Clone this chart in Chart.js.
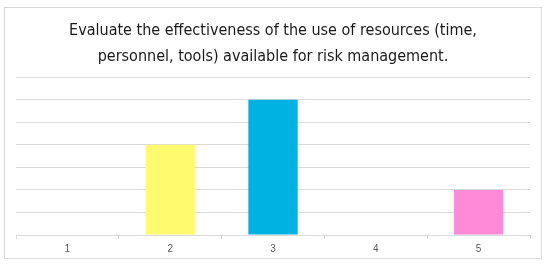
<!DOCTYPE html>
<html>
<head>
<meta charset="utf-8">
<script src="https://cdn.jsdelivr.net/npm/chart.js@4"></script>
<style>
  body { margin: 0; background: #fff; }
  #box {
    position: absolute; left: 4px; top: 7px;
    width: 538px; height: 252px;
    box-sizing: border-box;
    border: 1px solid #d9d9d9;
  }
  #wrap { position: relative; width: 536px; height: 250px; }
</style>
</head>
<body>
<div id="box"><div id="wrap"><canvas id="grafico"></canvas></div></div>
<script>
// dados
const categorias = ['1', '2', '3', '4', '5'];
const respostas = [0, 4, 6, 0, 2];
const cores = ['#5b9bd5', '#fffb6e', '#00b2e2', '#a5a5a5', '#ff8ad8'];
const tituloLinhas = [
  'Evaluate the effectiveness of the use of resources (time,',
  'personnel, tools) available for risk management.'
];

const ctx = document.getElementById('grafico').getContext('2d');
new Chart(ctx, {
  type: 'bar',
  data: {
    labels: categorias,
    datasets: [{
      label: 'Respostas',
      data: respostas,
      backgroundColor: cores,
      borderWidth: 0,
      categoryPercentage: 1,
      barPercentage: 0.48
    }]
  },
  options: {
    responsive: true,
    maintainAspectRatio: false,
    animation: false,
    layout: { padding: { left: 11, right: 11, top: 0, bottom: -1 } },
    plugins: {
      legend: { display: false },
      tooltip: { enabled: false },
      title: {
        display: true,
        text: tituloLinhas,
        color: '#1a1a1a',
        font: { family: "'DejaVu Sans Condensed', 'Liberation Sans'", size: 16, weight: 'normal', lineHeight: 1.6 },
        padding: { top: 10, bottom: 8 }
      }
    },
    scales: {
      x: {
        border: { display: true, color: '#d9d9d9' },
        grid: { drawOnChartArea: false, drawTicks: true, tickLength: 4, color: '#d9d9d9', offset: true },
        ticks: { color: '#595959', font: { family: 'Liberation Sans', size: 10 }, padding: 4 }
      },
      y: {
        min: 0,
        max: 7,
        border: { display: false },
        grid: { color: '#d9d9d9', drawTicks: false },
        ticks: { display: false, stepSize: 1 }
      }
    }
  }
});
</script>
</body>
</html>
